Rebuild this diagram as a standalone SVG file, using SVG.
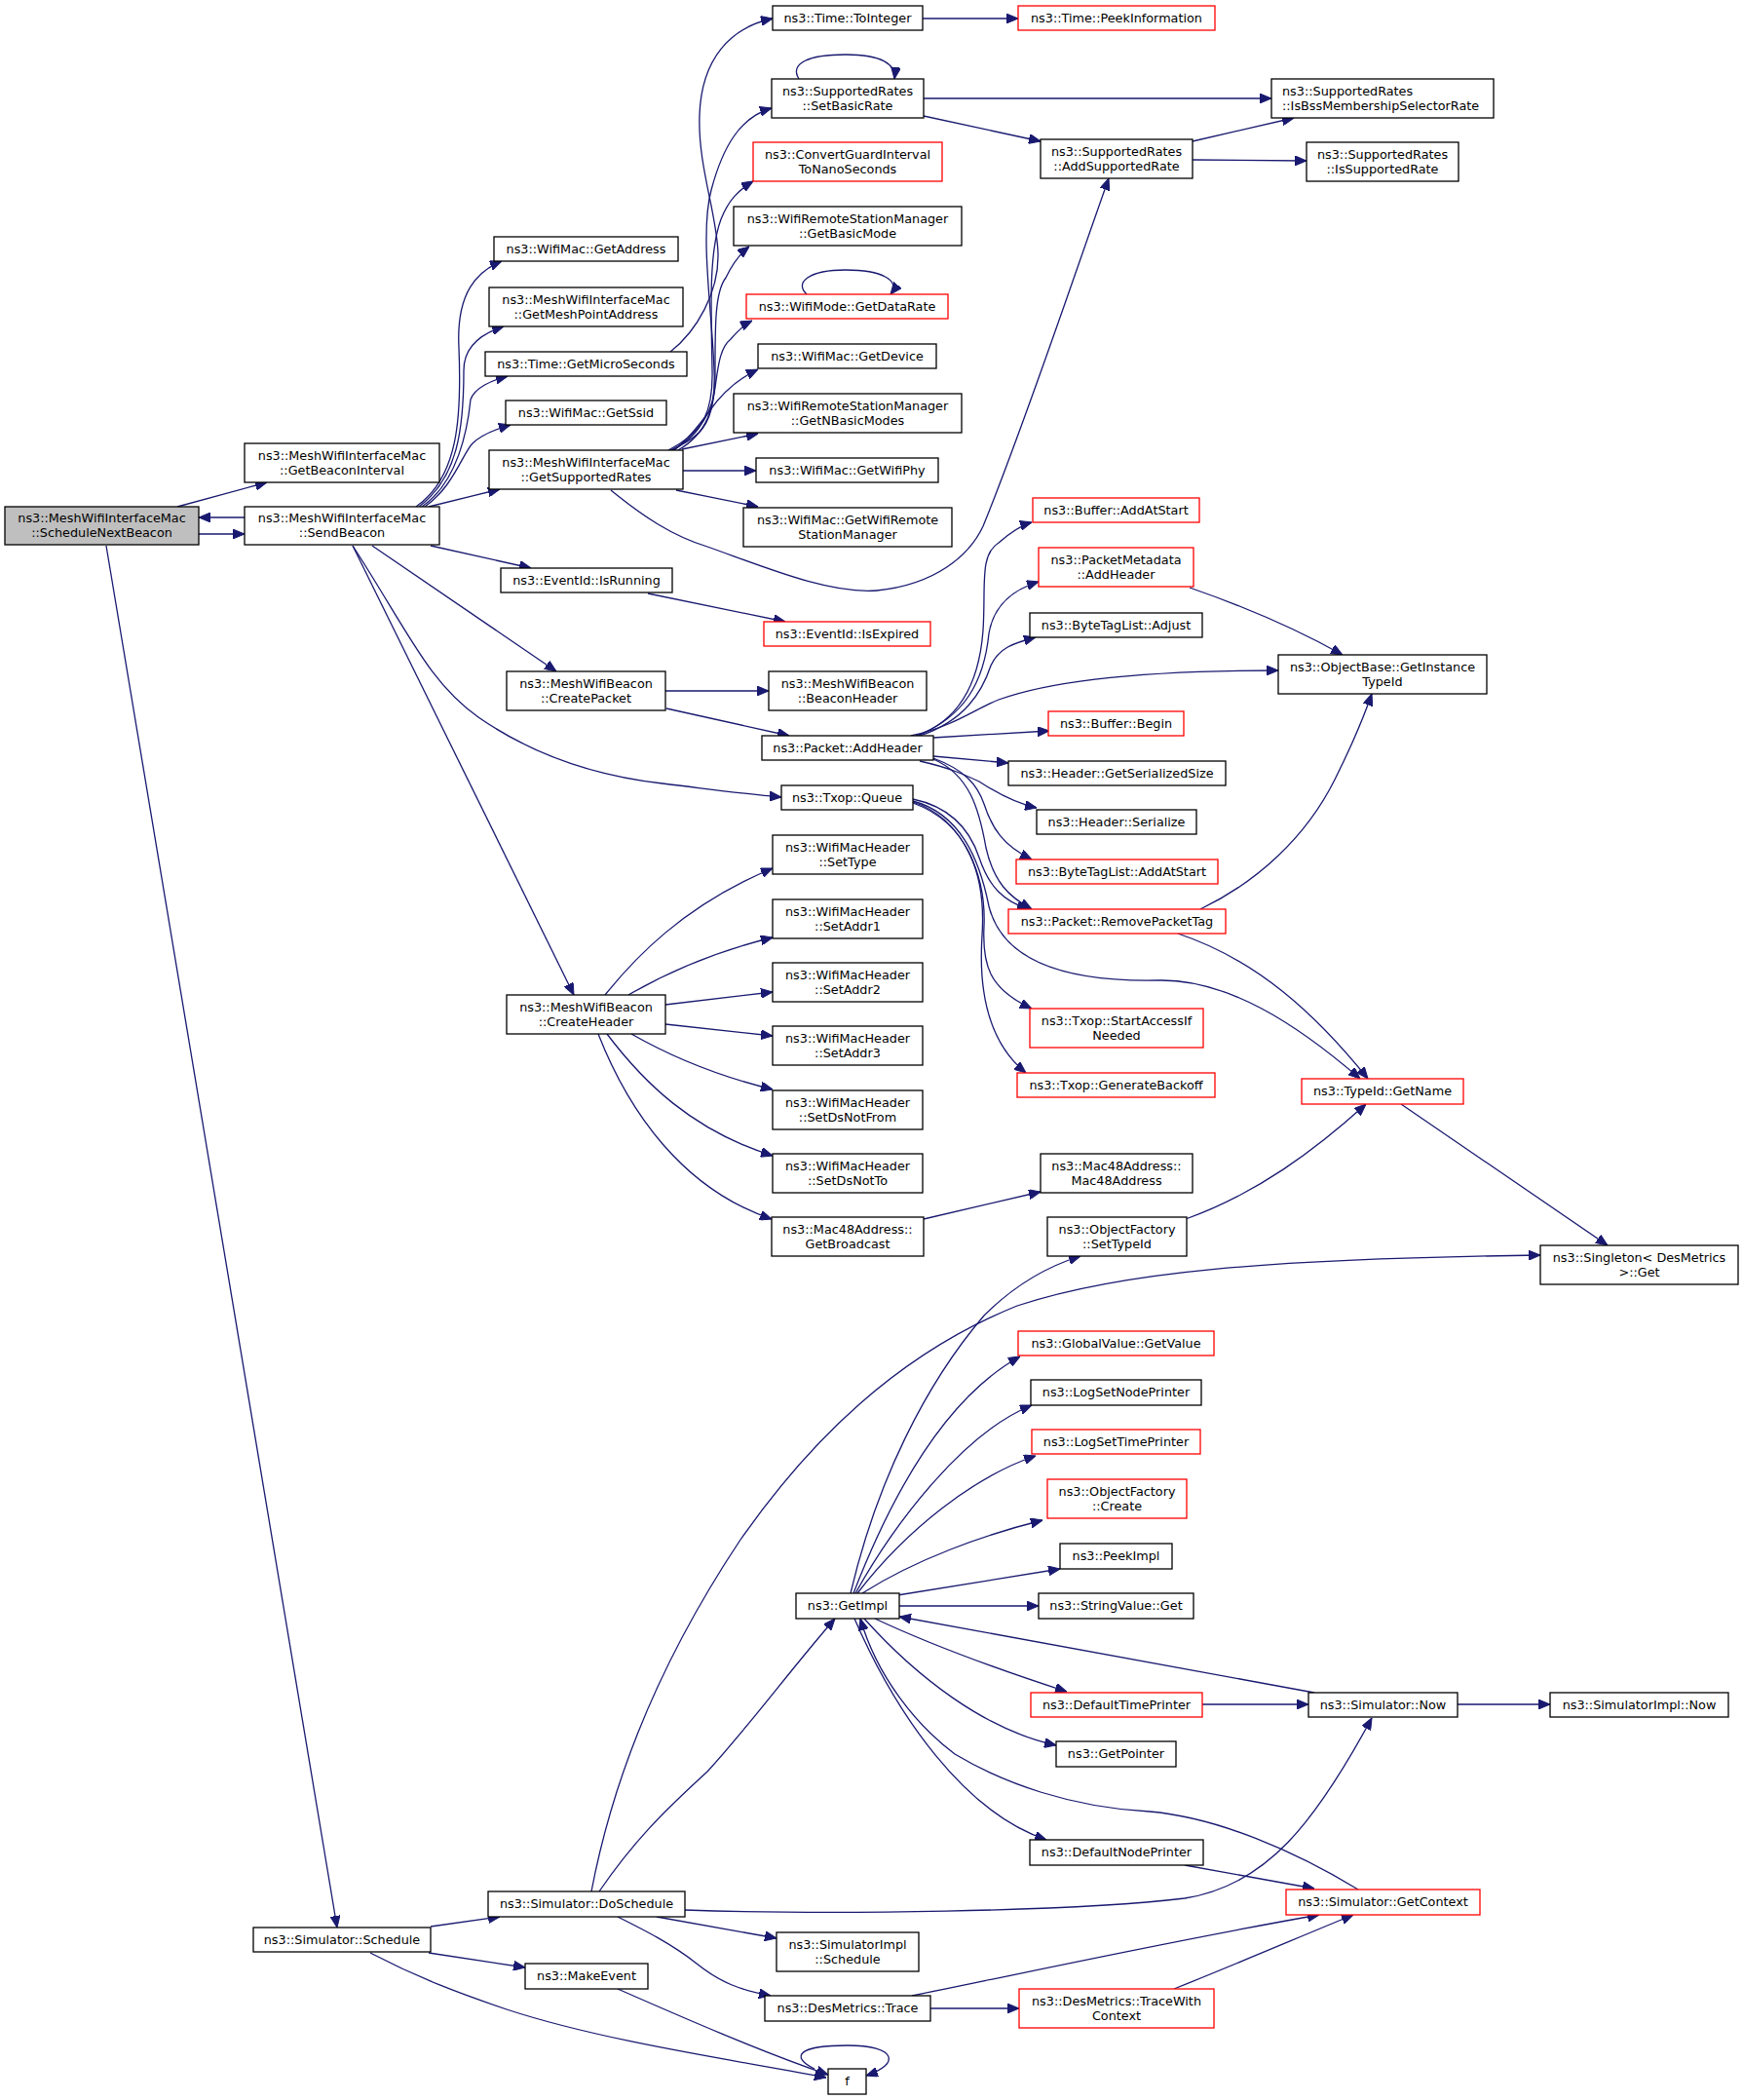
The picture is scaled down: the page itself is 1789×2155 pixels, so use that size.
<svg xmlns="http://www.w3.org/2000/svg" width="1789" height="2155" viewBox="0 0 1789 2155">
<style>
rect{fill:#fff;stroke:#000;stroke-width:1.3}
.r rect{stroke:#ff0000}
.root rect{fill:#bfbfbf}
text{font-family:"DejaVu Sans","Liberation Sans",sans-serif;font-size:12.8px;fill:#000;text-anchor:middle}
.l text{text-anchor:start}
#edges path{fill:none;stroke:#191970;stroke-width:1.3;marker-end:url(#a)}
</style>
<defs>
<marker id="a" markerUnits="userSpaceOnUse" viewBox="0 0 12 10" markerWidth="12" markerHeight="10" refX="12" refY="5" orient="auto"><path d="M0,0 L12,5 L0,10 z" fill="#191970" stroke="#191970" stroke-width="1"/></marker>
</defs>
<rect x="0" y="0" width="1789" height="2155" style="fill:#fff;stroke:none"/>
<g id="edges">
<path d="M182,520 L274,495"/>
<path d="M204,548 L251,548"/>
<path d="M251,531 L204,531"/>
<path d="M109,560 L346,1978"/>
<path d="M427,520 C470,490 474,430 471,357 C468,300 490,278 515,268"/>
<path d="M430,520 C470,490 476,440 476,380 C476,355 495,342 517,335"/>
<path d="M433,520 C470,495 480,440 483,410 C487,398 505,390 521,386"/>
<path d="M436,520 C465,500 475,465 485,455 C495,445 510,440 524,436"/>
<path d="M440,520 L513,502"/>
<path d="M688,361 C715,340 738,300 737,260 C736,220 716,170 718,118 C720,60 750,28 793,19"/>
<path d="M947,19 L1045,19"/>
<path d="M696,462 C725,445 735,420 733,380 C731,320 718,240 730,195 C742,150 760,120 792,111"/>
<path d="M690,462 C722,445 732,420 731,380 C730,320 727,260 740,225 C748,205 758,195 773,186"/>
<path d="M686,462 C720,445 734,420 734,390 C734,340 733,300 745,285 C752,270 760,260 769,253"/>
<path d="M688,462 C715,450 725,440 730,420 C737,390 735,360 750,348 C757,340 764,333 772,329"/>
<path d="M692,462 C705,452 715,440 728,422 C740,405 755,390 778,379"/>
<path d="M700,461 L778,445"/>
<path d="M701,483 L776,483"/>
<path d="M694,503 L778,520"/>
<path d="M627,503 C660,530 690,550 726,561 C780,580 850,610 900,606 C960,600 995,570 1009,540 C1050,440 1100,290 1138,183"/>
<path d="M820,81 C810,65 830,56 868,56 C905,56 920,66 918,81"/>
<path d="M828,302 C815,290 830,277 868,277 C905,277 925,288 914,302"/>
<path d="M948,101 L1305,101"/>
<path d="M948,119 L1068,145"/>
<path d="M1224,145 L1328,121"/>
<path d="M1224,164 L1341,165"/>
<path d="M442,560 L545,583"/>
<path d="M665,609 L806,638"/>
<path d="M382,560 L571,689"/>
<path d="M683,709 L789,709"/>
<path d="M684,727 L810,755"/>
<path d="M362,560 C420,650 440,700 491,736 C540,770 600,795 680,804 C730,810 765,815 802,818"/>
<path d="M362,560 L589,1021"/>
<path d="M940,755 C985,740 1005,700 1009,647 C1012,600 1005,570 1025,557 C1035,548 1045,540 1059,536"/>
<path d="M942,755 C990,735 1010,700 1015,650 C1020,620 1040,605 1066,597"/>
<path d="M944,755 C990,740 1008,710 1017,683 C1025,665 1040,660 1063,654"/>
<path d="M935,755 C980,745 1000,728 1025,718 C1080,698 1180,688 1312,688"/>
<path d="M958,757 L1077,750"/>
<path d="M958,776 L1035,783"/>
<path d="M944,781 C975,788 990,795 1005,802 C1025,815 1045,825 1064,829"/>
<path d="M958,778 C990,790 1003,805 1010,825 C1018,850 1030,868 1059,882"/>
<path d="M958,779 C995,795 1005,830 1012,870 C1020,905 1035,920 1059,933"/>
<path d="M937,820 C975,828 995,850 1005,880 C1015,910 1030,925 1056,933"/>
<path d="M937,822 C985,835 1005,880 1015,930 C1030,990 1100,1008 1190,1006 C1260,1005 1330,1050 1396,1107"/>
<path d="M937,823 C990,840 1012,900 1010,950 C1008,990 1015,1015 1059,1035"/>
<path d="M937,824 C995,845 1012,900 1008,960 C1004,1020 1015,1070 1053,1101"/>
<path d="M1232,933 C1290,905 1340,860 1370,800 C1390,760 1400,735 1408,712"/>
<path d="M1209,958 C1290,985 1350,1040 1404,1107"/>
<path d="M1221,603 C1270,620 1330,645 1378,672"/>
<path d="M1438,1133 L1650,1278"/>
<path d="M621,1021 C650,985 700,930 793,891"/>
<path d="M645,1021 C690,995 740,975 793,962"/>
<path d="M683,1031 L793,1018"/>
<path d="M683,1051 L793,1063"/>
<path d="M648,1061 C690,1085 740,1105 793,1118"/>
<path d="M623,1061 C660,1110 710,1160 793,1186"/>
<path d="M614,1061 C645,1140 700,1220 792,1251"/>
<path d="M948,1251 L1068,1223"/>
<path d="M1217,1251 C1290,1225 1350,1180 1402,1133"/>
<path d="M607,1941 C630,1820 680,1700 760,1580 C830,1480 920,1390 1044,1340 C1150,1305 1300,1292 1581,1288"/>
<path d="M615,1941 C650,1890 680,1860 726,1818 C770,1770 810,1715 857,1661"/>
<path d="M703,1960 C850,1965 1100,1962 1216,1948 C1300,1935 1350,1870 1408,1763"/>
<path d="M674,1967 C720,1975 760,1982 797,1989"/>
<path d="M634,1967 C660,1980 690,1995 715,2015 C740,2035 760,2042 791,2048"/>
<path d="M442,1977 L513,1967"/>
<path d="M440,2004 L539,2019"/>
<path d="M380,2004 C430,2030 470,2045 520,2062 C620,2095 760,2115 848,2132"/>
<path d="M634,2041 C700,2070 780,2105 850,2129"/>
<path d="M836,2123 C810,2110 820,2099 870,2099 C920,2099 925,2118 889,2130"/>
<path d="M955,2061 L1046,2061"/>
<path d="M936,2048 C1050,2025 1200,1992 1354,1965"/>
<path d="M1205,2041 C1270,2015 1340,1985 1389,1965"/>
<path d="M1216,1914 L1349,1938"/>
<path d="M1394,1939 C1330,1900 1250,1865 1180,1859 C1100,1855 1030,1830 980,1800 C940,1770 900,1720 883,1661"/>
<path d="M873,1635 C900,1520 950,1420 1010,1350 C1045,1315 1080,1298 1109,1289"/>
<path d="M876,1635 C905,1560 960,1440 1047,1392"/>
<path d="M878,1635 C920,1560 990,1470 1059,1442"/>
<path d="M880,1635 C930,1570 1000,1515 1063,1494"/>
<path d="M885,1635 C940,1600 1010,1575 1070,1560"/>
<path d="M921,1637 L1088,1610"/>
<path d="M923,1648 L1066,1648"/>
<path d="M898,1661 C960,1690 1030,1715 1095,1736"/>
<path d="M887,1661 C940,1720 1010,1775 1084,1791"/>
<path d="M877,1661 C920,1760 990,1860 1074,1888"/>
<path d="M1349,1737 L923,1659"/>
<path d="M1234,1749 L1343,1749"/>
<path d="M1496,1749 L1591,1749"/>
</g>
<g id="n_root" class="root"><rect x="5" y="520" width="199" height="39"/><text x="104.5" y="536.2">ns3::MeshWifiInterfaceMac</text><text x="104.5" y="551.2">::ScheduleNextBeacon</text></g>
<g id="n_gbi"><rect x="251" y="455" width="200" height="40"/><text x="351" y="471.7">ns3::MeshWifiInterfaceMac</text><text x="351" y="486.7">::GetBeaconInterval</text></g>
<g id="n_sb"><rect x="251" y="520" width="200" height="39"/><text x="351" y="536.2">ns3::MeshWifiInterfaceMac</text><text x="351" y="551.2">::SendBeacon</text></g>
<g id="n_gaddr"><rect x="507" y="243" width="189" height="25"/><text x="601.5" y="259.9">ns3::WifiMac::GetAddress</text></g>
<g id="n_gmpa"><rect x="502" y="295" width="199" height="40"/><text x="601.5" y="311.7">ns3::MeshWifiInterfaceMac</text><text x="601.5" y="326.7">::GetMeshPointAddress</text></g>
<g id="n_gms"><rect x="498" y="361" width="207" height="25"/><text x="601.5" y="377.9">ns3::Time::GetMicroSeconds</text></g>
<g id="n_gssid"><rect x="519" y="411" width="165" height="25"/><text x="601.5" y="427.9">ns3::WifiMac::GetSsid</text></g>
<g id="n_gsr"><rect x="502" y="462" width="199" height="40"/><text x="601.5" y="478.7">ns3::MeshWifiInterfaceMac</text><text x="601.5" y="493.7">::GetSupportedRates</text></g>
<g id="n_toint"><rect x="793" y="6" width="154" height="25"/><text x="870" y="22.9">ns3::Time::ToInteger</text></g>
<g id="n_peek" class="r"><rect x="1045" y="6" width="202" height="25"/><text x="1146" y="22.9">ns3::Time::PeekInformation</text></g>
<g id="n_sbr"><rect x="792" y="81" width="156" height="40"/><text x="870" y="97.7">ns3::SupportedRates</text><text x="870" y="112.7">::SetBasicRate</text></g>
<g id="n_cgi" class="r"><rect x="773" y="146" width="194" height="40"/><text x="870" y="162.7">ns3::ConvertGuardInterval</text><text x="870" y="177.7">ToNanoSeconds</text></g>
<g id="n_gbm"><rect x="753" y="212" width="234" height="40"/><text x="870" y="228.7">ns3::WifiRemoteStationManager</text><text x="870" y="243.7">::GetBasicMode</text></g>
<g id="n_gdr" class="r"><rect x="766" y="302" width="207" height="25"/><text x="869.5" y="318.9">ns3::WifiMode::GetDataRate</text></g>
<g id="n_gdev"><rect x="778" y="353" width="183" height="25"/><text x="869.5" y="369.9">ns3::WifiMac::GetDevice</text></g>
<g id="n_gnbm"><rect x="753" y="404" width="234" height="40"/><text x="870" y="420.7">ns3::WifiRemoteStationManager</text><text x="870" y="435.7">::GetNBasicModes</text></g>
<g id="n_gphy"><rect x="776" y="470" width="187" height="25"/><text x="869.5" y="486.9">ns3::WifiMac::GetWifiPhy</text></g>
<g id="n_grsm"><rect x="763" y="521" width="214" height="40"/><text x="870" y="537.7">ns3::WifiMac::GetWifiRemote</text><text x="870" y="552.7">StationManager</text></g>
<g id="n_asr"><rect x="1068" y="143" width="156" height="40"/><text x="1146" y="159.7">ns3::SupportedRates</text><text x="1146" y="174.7">::AddSupportedRate</text></g>
<g id="n_isbss" class="l"><rect x="1305" y="81" width="228" height="40"/><text x="1316" y="97.7">ns3::SupportedRates</text><text x="1316" y="112.7">::IsBssMembershipSelectorRate</text></g>
<g id="n_issr"><rect x="1341" y="146" width="156" height="40"/><text x="1419" y="162.7">ns3::SupportedRates</text><text x="1419" y="177.7">::IsSupportedRate</text></g>
<g id="n_baas" class="r"><rect x="1060" y="511" width="171" height="25"/><text x="1145.5" y="527.9">ns3::Buffer::AddAtStart</text></g>
<g id="n_isrun"><rect x="514" y="583" width="176" height="25"/><text x="602" y="599.9">ns3::EventId::IsRunning</text></g>
<g id="n_isexp" class="r"><rect x="784" y="638" width="171" height="25"/><text x="869.5" y="654.9">ns3::EventId::IsExpired</text></g>
<g id="n_cpkt"><rect x="520" y="689" width="163" height="40"/><text x="601.5" y="705.7">ns3::MeshWifiBeacon</text><text x="601.5" y="720.7">::CreatePacket</text></g>
<g id="n_bhdr"><rect x="789" y="689" width="162" height="40"/><text x="870" y="705.7">ns3::MeshWifiBeacon</text><text x="870" y="720.7">::BeaconHeader</text></g>
<g id="n_padd"><rect x="782" y="755" width="176" height="25"/><text x="870" y="771.9">ns3::Packet::AddHeader</text></g>
<g id="n_queue"><rect x="802" y="806" width="135" height="25"/><text x="869.5" y="822.9">ns3::Txop::Queue</text></g>
<g id="n_settype"><rect x="793" y="857" width="154" height="40"/><text x="870" y="873.7">ns3::WifiMacHeader</text><text x="870" y="888.7">::SetType</text></g>
<g id="n_addr1"><rect x="793" y="923" width="154" height="40"/><text x="870" y="939.7">ns3::WifiMacHeader</text><text x="870" y="954.7">::SetAddr1</text></g>
<g id="n_addr2"><rect x="793" y="988" width="154" height="40"/><text x="870" y="1004.7">ns3::WifiMacHeader</text><text x="870" y="1019.7">::SetAddr2</text></g>
<g id="n_addr3"><rect x="793" y="1053" width="154" height="40"/><text x="870" y="1069.7">ns3::WifiMacHeader</text><text x="870" y="1084.7">::SetAddr3</text></g>
<g id="n_dsf"><rect x="793" y="1119" width="154" height="40"/><text x="870" y="1135.7">ns3::WifiMacHeader</text><text x="870" y="1150.7">::SetDsNotFrom</text></g>
<g id="n_dst"><rect x="793" y="1184" width="154" height="40"/><text x="870" y="1200.7">ns3::WifiMacHeader</text><text x="870" y="1215.7">::SetDsNotTo</text></g>
<g id="n_chdr"><rect x="520" y="1021" width="163" height="40"/><text x="601.5" y="1037.7">ns3::MeshWifiBeacon</text><text x="601.5" y="1052.7">::CreateHeader</text></g>
<g id="n_gbc"><rect x="792" y="1249" width="156" height="40"/><text x="870" y="1265.7">ns3::Mac48Address::</text><text x="870" y="1280.7">GetBroadcast</text></g>
<g id="n_pmd" class="r"><rect x="1066" y="562" width="159" height="40"/><text x="1145.5" y="578.7">ns3::PacketMetadata</text><text x="1145.5" y="593.7">::AddHeader</text></g>
<g id="n_adj"><rect x="1057" y="629" width="177" height="25"/><text x="1145.5" y="645.9">ns3::ByteTagList::Adjust</text></g>
<g id="n_goi"><rect x="1312" y="672" width="214" height="40"/><text x="1419" y="688.7">ns3::ObjectBase::GetInstance</text><text x="1419" y="703.7">TypeId</text></g>
<g id="n_bbeg" class="r"><rect x="1076" y="730" width="139" height="25"/><text x="1145.5" y="746.9">ns3::Buffer::Begin</text></g>
<g id="n_gss"><rect x="1035" y="781" width="223" height="25"/><text x="1146.5" y="797.9">ns3::Header::GetSerializedSize</text></g>
<g id="n_hser"><rect x="1064" y="831" width="164" height="25"/><text x="1146" y="847.9">ns3::Header::Serialize</text></g>
<g id="n_btas" class="r"><rect x="1043" y="882" width="207" height="25"/><text x="1146.5" y="898.9">ns3::ByteTagList::AddAtStart</text></g>
<g id="n_rpt" class="r"><rect x="1035" y="933" width="223" height="25"/><text x="1146.5" y="949.9">ns3::Packet::RemovePacketTag</text></g>
<g id="n_saif" class="r"><rect x="1057" y="1035" width="178" height="40"/><text x="1146" y="1051.7">ns3::Txop::StartAccessIf</text><text x="1146" y="1066.7">Needed</text></g>
<g id="n_gbo" class="r"><rect x="1044" y="1101" width="203" height="25"/><text x="1145.5" y="1117.9">ns3::Txop::GenerateBackoff</text></g>
<g id="n_gname" class="r"><rect x="1336" y="1107" width="166" height="26"/><text x="1419" y="1124.4">ns3::TypeId::GetName</text></g>
<g id="n_m48"><rect x="1068" y="1184" width="156" height="40"/><text x="1146" y="1200.7">ns3::Mac48Address::</text><text x="1146" y="1215.7">Mac48Address</text></g>
<g id="n_ofst"><rect x="1075" y="1249" width="143" height="40"/><text x="1146.5" y="1265.7">ns3::ObjectFactory</text><text x="1146.5" y="1280.7">::SetTypeId</text></g>
<g id="n_sing"><rect x="1581" y="1278" width="203" height="40"/><text x="1682.5" y="1294.7">ns3::Singleton&lt; DesMetrics</text><text x="1682.5" y="1309.7"> &gt;::Get</text></g>
<g id="n_gvgv" class="r"><rect x="1045" y="1366" width="201" height="25"/><text x="1145.5" y="1382.9">ns3::GlobalValue::GetValue</text></g>
<g id="n_lsnp"><rect x="1058" y="1416" width="175" height="26"/><text x="1145.5" y="1433.4">ns3::LogSetNodePrinter</text></g>
<g id="n_lstp" class="r"><rect x="1059" y="1467" width="173" height="25"/><text x="1145.5" y="1483.9">ns3::LogSetTimePrinter</text></g>
<g id="n_ofc" class="r"><rect x="1075" y="1518" width="143" height="40"/><text x="1146.5" y="1534.7">ns3::ObjectFactory</text><text x="1146.5" y="1549.7">::Create</text></g>
<g id="n_peekimpl"><rect x="1088" y="1584" width="115" height="26"/><text x="1145.5" y="1601.4">ns3::PeekImpl</text></g>
<g id="n_getimpl"><rect x="817" y="1635" width="106" height="26"/><text x="870" y="1652.4">ns3::GetImpl</text></g>
<g id="n_svg"><rect x="1066" y="1635" width="159" height="26"/><text x="1145.5" y="1652.4">ns3::StringValue::Get</text></g>
<g id="n_dtp" class="r"><rect x="1058" y="1737" width="176" height="25"/><text x="1146" y="1753.9">ns3::DefaultTimePrinter</text></g>
<g id="n_gptr"><rect x="1084" y="1787" width="123" height="26"/><text x="1145.5" y="1804.4">ns3::GetPointer</text></g>
<g id="n_dnp"><rect x="1057" y="1888" width="178" height="26"/><text x="1146" y="1905.4">ns3::DefaultNodePrinter</text></g>
<g id="n_snow"><rect x="1343" y="1737" width="153" height="25"/><text x="1419.5" y="1753.9">ns3::Simulator::Now</text></g>
<g id="n_sinow"><rect x="1591" y="1737" width="183" height="25"/><text x="1682.5" y="1753.9">ns3::SimulatorImpl::Now</text></g>
<g id="n_gctx" class="r"><rect x="1320" y="1939" width="199" height="26"/><text x="1419.5" y="1956.4">ns3::Simulator::GetContext</text></g>
<g id="n_dosch"><rect x="501" y="1941" width="202" height="26"/><text x="602" y="1958.4">ns3::Simulator::DoSchedule</text></g>
<g id="n_ssch"><rect x="260" y="1978" width="182" height="25"/><text x="351" y="1994.9">ns3::Simulator::Schedule</text></g>
<g id="n_sisch"><rect x="797" y="1983" width="146" height="40"/><text x="870" y="1999.7">ns3::SimulatorImpl</text><text x="870" y="2014.7">::Schedule</text></g>
<g id="n_mkev"><rect x="539" y="2015" width="126" height="26"/><text x="602" y="2032.4">ns3::MakeEvent</text></g>
<g id="n_dmt"><rect x="785" y="2048" width="170" height="26"/><text x="870" y="2065.4">ns3::DesMetrics::Trace</text></g>
<g id="n_twc" class="r"><rect x="1046" y="2041" width="200" height="40"/><text x="1146" y="2057.7">ns3::DesMetrics::TraceWith</text><text x="1146" y="2072.7">Context</text></g>
<g id="n_f"><rect x="850" y="2123" width="39" height="26"/><text x="869.5" y="2140.4">f</text></g>
</svg>
